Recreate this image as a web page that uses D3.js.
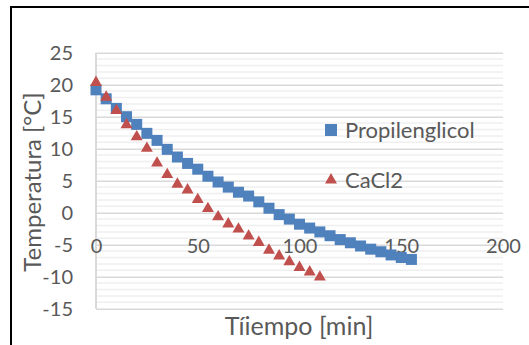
<!DOCTYPE html>
<html>
<head>
<meta charset="utf-8">
<script src="https://cdn.jsdelivr.net/npm/d3@7"></script>
<style>
  body { margin: 0; background: #fff; }
  svg { display: block; font-family: Lato, "Open Sans", sans-serif; }
  .tick text { fill: #595959; }
</style>
</head>
<body>
<svg id="chart" width="529" height="345"></svg>
<script>
// time in minutes (every 5 min)
const timePropilen = [0,5,10,15,20,25,30,35,40,45,50,55,60,65,70,75,80,85,90,95,100,105,110,115,120,125,130,135,140,145,150,155];
const tempPropilen = [19.2,17.8,16.3,15.0,13.8,12.4,11.3,9.9,8.7,7.7,6.8,5.7,4.8,4.0,3.2,2.6,1.7,0.7,-0.3,-1.0,-1.8,-2.4,-3.0,-3.6,-4.2,-4.7,-5.2,-5.7,-6.1,-6.6,-7.0,-7.3];
const timeCaCl2 = [0,5,10,15,20,25,30,35,40,45,50,55,60,65,70,75,80,85,90,95,100,105,110];
const tempCaCl2 = [20.5,18.2,16.1,13.9,12.0,10.2,7.9,6.1,4.6,3.7,2.2,0.8,-0.5,-1.6,-2.4,-3.5,-4.5,-5.7,-6.6,-7.5,-8.4,-9.1,-9.9];
const xTicks = [0,50,100,150,200];
const yTicks = [-15,-10,-5,0,5,10,15,20,25];
const seriesNames = ["Propilenglicol", "CaCl2"];
const colors = ["#4f81bd", "#c0504d"];

const svg = d3.select("#chart");

const x = d3.scaleLinear().domain([0, 200]).range([96, 503]);
const y = d3.scaleLinear().domain([-15, 25]).range([308.7, 52.7]);

// outer frame (cut off at right / bottom)
svg.append("rect")
  .attr("x", 11).attr("y", 7)
  .attr("width", 700).attr("height", 500)
  .attr("fill", "none").attr("stroke", "#000").attr("stroke-width", 2);

// minor gridlines every 1 degree
svg.append("g")
  .selectAll("line")
  .data(d3.range(-15, 26).filter(v => v % 5 !== 0))
  .enter().append("line")
  .attr("x1", x(0)).attr("x2", x(200))
  .attr("y1", d => y(d)).attr("y2", d => y(d))
  .attr("stroke", "#efefef").attr("stroke-width", 1.5);

// major gridlines
svg.append("g")
  .call(d3.axisLeft(y).tickValues(yTicks).tickSize(-(x(200) - x(0))).tickFormat(""))
  .attr("transform", `translate(${x(0)},0)`)
  .call(g => g.select(".domain").remove())
  .call(g => g.selectAll(".tick line").attr("stroke", "#d9d9d9").attr("stroke-width", 1.5));

// vertical axis line
svg.append("line")
  .attr("x1", x(0)).attr("x2", x(0))
  .attr("y1", y(25)).attr("y2", y(-15))
  .attr("stroke", "#d9d9d9").attr("stroke-width", 2);

// y tick labels (plain hyphen for negatives, like the original)
svg.append("g")
  .attr("transform", "translate(73,0)")
  .call(d3.axisLeft(y).tickValues(yTicks).tickSize(0).tickPadding(0).tickFormat(d => String(d)))
  .call(g => g.select(".domain").remove())
  .call(g => g.selectAll(".tick text").attr("font-size", 20).attr("font-family", "Lato, sans-serif").attr("dy", "0.35em"));

// x tick labels (sit below the 0 line)
svg.append("g")
  .attr("transform", `translate(0,${y(0) + 33})`)
  .call(d3.axisBottom(x).tickValues(xTicks).tickSize(0).tickPadding(0).tickFormat(d => String(d)))
  .call(g => g.select(".domain").remove())
  .call(g => g.selectAll(".tick text").attr("font-size", 20).attr("font-family", "Lato, sans-serif").attr("dy", "0.35em"));

// series: squares
svg.append("g")
  .selectAll("rect")
  .data(timePropilen.map((t, i) => [t, tempPropilen[i]]))
  .enter().append("rect")
  .attr("x", d => x(d[0]) - 5.5).attr("y", d => y(d[1]) - 5.5)
  .attr("width", 11).attr("height", 11)
  .attr("fill", colors[0]);

// series: triangles
const tri = d3.symbol().type(d3.symbolTriangle).size(62);
svg.append("g")
  .selectAll("path")
  .data(timeCaCl2.map((t, i) => [t, tempCaCl2[i]]))
  .enter().append("path")
  .attr("d", tri)
  .attr("transform", d => `translate(${x(d[0])},${y(d[1]) + 1})`)
  .attr("fill", colors[1]);

// axis titles
svg.append("text")
  .attr("transform", "translate(33,182) rotate(-90)")
  .attr("text-anchor", "middle").attr("dy", "0.35em")
  .attr("font-size", 24).attr("fill", "#595959")
  .text("Temperatura [°C]");

svg.append("text")
  .attr("x", 299).attr("y", 326)
  .attr("text-anchor", "middle").attr("dy", "0.35em")
  .attr("font-size", 25).attr("fill", "#595959")
  .text("Tíiempo [min]");

// legend
const legend = svg.append("g");
legend.append("rect")
  .attr("x", 325).attr("y", 124).attr("width", 12).attr("height", 12)
  .attr("fill", colors[0]);
legend.append("path")
  .attr("d", tri)
  .attr("transform", "translate(331,180)")
  .attr("fill", colors[1]);
legend.selectAll("text")
  .data(seriesNames)
  .enter().append("text")
  .attr("x", 345).attr("y", (d, i) => 130 + i * 50)
  .attr("dy", "0.35em")
  .attr("font-size", 22).attr("fill", "#595959")
  .text(d => d);
</script>
</body>
</html>
